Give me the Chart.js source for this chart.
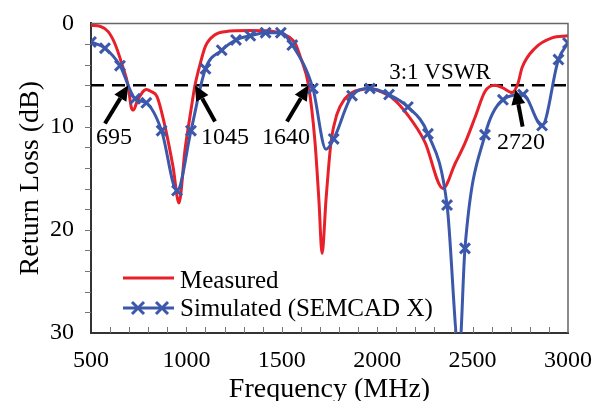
<!DOCTYPE html>
<html>
<head>
<meta charset="utf-8">
<script src="https://cdn.jsdelivr.net/npm/chart.js@4.4.1/dist/chart.umd.min.js"></script>
<style>
  html, body { margin: 0; padding: 0; background: #fff; }
</style>
</head>
<body>
<canvas id="grafico" width="600" height="401"></canvas>
<script>
// Medido (línea roja)
const medFreq = [500, 550, 590, 626, 663, 694, 712, 722, 745, 790, 815, 846, 888, 930, 961, 993, 1024, 1045, 1071, 1100, 1150, 1202, 1333, 1464, 1517, 1569, 1600, 1640, 1674, 1695, 1711, 1732, 1758, 1789, 1831, 1868, 1920, 1960, 2030, 2077, 2161, 2250, 2345, 2408, 2460, 2513, 2565, 2617, 2654, 2707, 2738, 2759, 2827, 2916, 3000];
const medLoss = [0.2, 0.3, 0.8, 2.0, 4.0, 6.0, 8.2, 8.4, 7.4, 6.4, 6.6, 7.1, 10.0, 13.9, 17.4, 12.2, 8.4, 6.0, 4.0, 2.2, 1.1, 0.8, 0.7, 0.8, 1.1, 1.9, 3.4, 6.0, 11.5, 17.3, 22.3, 17.0, 11.5, 8.8, 7.3, 6.7, 6.4, 6.3, 6.7, 7.2, 8.9, 11.5, 16.0, 13.6, 11.6, 9.1, 6.6, 6.0, 6.2, 6.7, 5.8, 4.3, 2.4, 1.4, 1.2];

// Simulado (SEMCAD X), con marcas
const simFreq = [500, 573, 652, 731, 790, 870, 951, 1024, 1100, 1185, 1260, 1335, 1415, 1495, 1555, 1663, 1732, 1772, 1868, 1962, 2062, 2161, 2266, 2366, 2430, 2460, 2565, 2659, 2764, 2864, 2950, 3000];
const simLoss = [1.8, 2.4, 4.1, 7.3, 7.7, 10.4, 16.2, 10.4, 4.4, 2.6, 1.6, 1.2, 0.9, 0.9, 2.1, 6.3, 12.2, 11.2, 7.0, 6.3, 6.9, 8.1, 10.7, 17.6, 32, 21.8, 10.8, 7.4, 6.9, 9.9, 3.5, 1.9];
const simMarca = [1, 1, 1, 1, 1, 1, 1, 1, 1, 1, 1, 1, 1, 1, 1, 1, 0, 1, 1, 1, 1, 1, 1, 1, 0, 1, 1, 1, 1, 1, 1, 1];

// Línea 3:1 VSWR
const vswrDb = 6;

// Etiquetas de los ejes
const xTicks = [500, 1000, 1500, 2000, 2500, 3000];
const yTicks = [0, 10, 20, 30];

// Anotaciones: texto, posición del texto, cola y punta de la flecha
const notas = [
  { texto: '695',  tx: 620,  ty: 11.1, x0: 573,  y0: 9.7,  x1: 695,  y1: 6 },
  { texto: '1045', tx: 1202, ty: 11.1, x0: 1150, y0: 9.5,  x1: 1045, y1: 6 },
  { texto: '1640', tx: 1522, ty: 11.1, x0: 1527, y0: 9.5,  x1: 1640, y1: 6 },
  { texto: '2720', tx: 2754, ty: 11.6, x0: 2762, y0: 10.0, x1: 2725, y1: 6.4 }
];

const ROJO = '#e8202a';
const AZUL = '#3c58aa';
const FUENTE = 'Liberation Serif, Times New Roman, serif';

function flecha(ctx, ax, ay, bx, by) {
  const ang = Math.atan2(by - ay, bx - ax);
  const largo = 15, ancho = 7;
  const cx = bx - largo * Math.cos(ang), cy = by - largo * Math.sin(ang);
  ctx.beginPath();
  ctx.moveTo(ax, ay);
  ctx.lineTo(cx, cy);
  ctx.lineWidth = 4;
  ctx.strokeStyle = '#000';
  ctx.stroke();
  ctx.beginPath();
  ctx.moveTo(bx, by);
  ctx.lineTo(cx + ancho * Math.sin(ang), cy - ancho * Math.cos(ang));
  ctx.lineTo(cx - ancho * Math.sin(ang), cy + ancho * Math.cos(ang));
  ctx.closePath();
  ctx.fillStyle = '#000';
  ctx.fill();
}

// Marco, marcas menores, anotaciones y leyenda
const extras = {
  id: 'extras',
  afterDatasetsDraw(chart) {
    const ctx = chart.ctx;
    const xs = chart.scales.x, ys = chart.scales.y;
    ctx.save();
    notas.forEach(n => {
      flecha(ctx, xs.getPixelForValue(n.x0), ys.getPixelForValue(n.y0),
                  xs.getPixelForValue(n.x1), ys.getPixelForValue(n.y1));
      ctx.font = '24px ' + FUENTE;
      ctx.fillStyle = '#000';
      ctx.textAlign = 'center';
      ctx.textBaseline = 'middle';
      ctx.fillText(n.texto, xs.getPixelForValue(n.tx), ys.getPixelForValue(n.ty));
    });
    ctx.font = '23px ' + FUENTE;
    ctx.fillText('3:1 VSWR', xs.getPixelForValue(2329), ys.getPixelForValue(4.8));
    ctx.restore();
  },
  afterDraw(chart) {
    const ctx = chart.ctx;
    const a = chart.chartArea;
    const xs = chart.scales.x, ys = chart.scales.y;
    ctx.save();
    // marco superior y derecho
    ctx.strokeStyle = '#666';
    ctx.lineWidth = 1.5;
    ctx.beginPath();
    ctx.moveTo(a.left, a.top);
    ctx.lineTo(a.right, a.top);
    ctx.lineTo(a.right, a.bottom);
    ctx.stroke();
    // marcas del eje x (hacia dentro)
    ctx.strokeStyle = '#777';
    ctx.lineWidth = 1;
    for (let f = 600; f < 3000; f += 100) {
      const px = Math.round(xs.getPixelForValue(f)) + 0.5;
      ctx.beginPath();
      ctx.moveTo(px, a.bottom);
      ctx.lineTo(px, a.bottom - 6);
      ctx.stroke();
    }
    // marcas del eje y
    for (let d = 2; d < 30; d += 2) {
      const py = Math.round(ys.getPixelForValue(d)) + 0.5;
      ctx.beginPath();
      ctx.moveTo(a.left - 6, py);
      ctx.lineTo(a.left, py);
      ctx.stroke();
    }
    // leyenda
    const lx = a.left + 32, ly1 = 278, ly2 = 308;
    ctx.lineWidth = 3;
    ctx.strokeStyle = ROJO;
    ctx.beginPath(); ctx.moveTo(lx, ly1); ctx.lineTo(lx + 51, ly1); ctx.stroke();
    ctx.strokeStyle = AZUL;
    ctx.beginPath(); ctx.moveTo(lx, ly2); ctx.lineTo(lx + 51, ly2); ctx.stroke();
    [lx + 15, lx + 39].forEach(mx => {
      ctx.beginPath();
      ctx.moveTo(mx - 6, ly2 - 6); ctx.lineTo(mx + 6, ly2 + 6);
      ctx.moveTo(mx - 6, ly2 + 6); ctx.lineTo(mx + 6, ly2 - 6);
      ctx.stroke();
    });
    ctx.font = '25px ' + FUENTE;
    ctx.fillStyle = '#000';
    ctx.textAlign = 'left';
    ctx.textBaseline = 'alphabetic';
    ctx.fillText('Measured', lx + 57, 288);
    ctx.fillText('Simulated (SEMCAD X)', lx + 57, 316);
    ctx.restore();
  }
};

new Chart(document.getElementById('grafico').getContext('2d'), {
  type: 'line',
  data: {
    datasets: [
      {
        label: 'Simulated (SEMCAD X)',
        data: simFreq.map((f, i) => ({ x: f, y: simLoss[i] })),
        borderColor: AZUL,
        borderWidth: 3,
        pointStyle: 'crossRot',
        pointRadius: simMarca.map(m => m ? 7 : 0),
        pointBorderColor: AZUL,
        pointBorderWidth: 3,
        cubicInterpolationMode: 'monotone',
        fill: false
      },
      {
        label: 'Measured',
        data: medFreq.map((f, i) => ({ x: f, y: medLoss[i] })),
        borderColor: ROJO,
        borderWidth: 3,
        pointRadius: 0,
        cubicInterpolationMode: 'monotone',
        fill: false
      },
      {
        label: '3:1 VSWR',
        data: [{ x: 500, y: vswrDb }, { x: 3000, y: vswrDb }],
        borderColor: '#000',
        borderWidth: 2.5,
        borderDash: [13, 8],
        pointRadius: 0,
        fill: false
      }
    ]
  },
  options: {
    responsive: false,
    animation: false,
    layout: { padding: { left: 0, right: 32, top: 21, bottom: 0 } },
    plugins: {
      legend: { display: false },
      tooltip: { enabled: false }
    },
    scales: {
      x: {
        type: 'linear',
        min: 500,
        max: 3000,
        afterBuildTicks: s => { s.ticks = xTicks.map(v => ({ value: v })); },
        afterFit: s => { s.height = 68; },
        ticks: {
          font: { family: FUENTE, size: 24 },
          color: '#000',
          padding: 5,
          maxRotation: 0,
          callback: v => String(v)
        },
        grid: { display: false },
        border: { display: true, color: '#333', width: 2 },
        title: {
          display: true,
          text: 'Frequency (MHz)',
          color: '#000',
          font: { family: FUENTE, size: 28, lineHeight: 0.8 },
          padding: 0
        }
      },
      y: {
        type: 'linear',
        reverse: true,
        min: 0,
        max: 30,
        afterBuildTicks: s => { s.ticks = yTicks.map(v => ({ value: v })); },
        afterFit: s => { s.width = 91; },
        ticks: { font: { family: FUENTE, size: 24 }, color: '#000', padding: 9 },
        grid: { display: false },
        border: { display: true, color: '#333', width: 2 },
        title: {
          display: true,
          text: 'Return Loss (dB)',
          color: '#000',
          font: { family: FUENTE, size: 28 },
          padding: { top: 14, bottom: 0 }
        }
      }
    }
  },
  plugins: [extras]
});
</script>
</body>
</html>
